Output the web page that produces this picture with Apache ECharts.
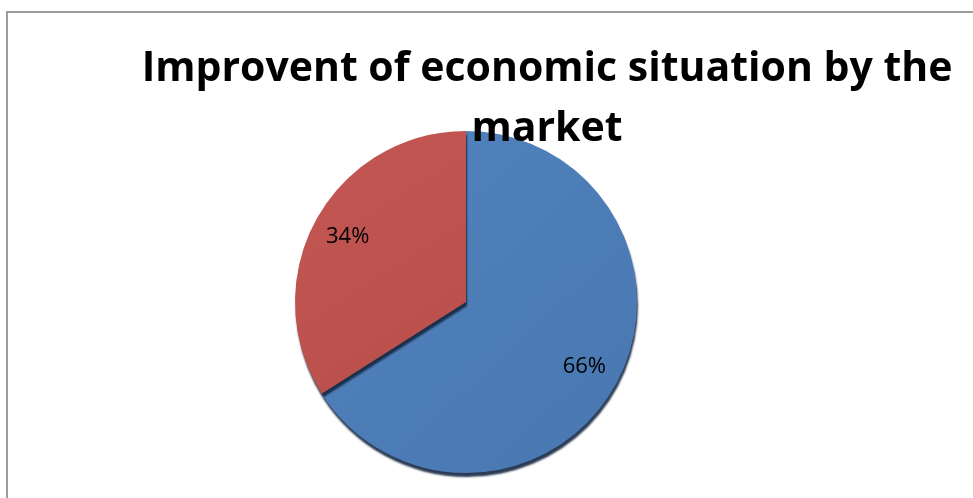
<!DOCTYPE html>
<html>
<head>
<meta charset="utf-8">
<script src="https://cdn.jsdelivr.net/npm/echarts@6/dist/echarts.min.js"></script>
<style>
  html, body { margin: 0; padding: 0; background: #fff; }
  #chart { width: 973px; height: 498px; }
</style>
</head>
<body>
<div id="chart"></div>
<script>
// Share of respondents by answer
const categories = ['Yes', 'No'];
const shares = [66, 34];
const sliceColors = [
  ['#5283BE', '#4877B0'],
  ['#C45753', '#B84E4A']
];
const titleText = 'Improvent of economic situation by the\nmarket';

const chart = echarts.init(document.getElementById('chart'));

const pieData = categories.map((name, i) => ({
  name,
  value: shares[i],
  itemStyle: {
    color: {
      type: 'linear', x: 0, y: 0, x2: 1, y2: 1,
      colorStops: [
        { offset: 0, color: sliceColors[i][0] },
        { offset: 1, color: sliceColors[i][1] }
      ]
    }
  }
}));

const center = [466, 302];

chart.setOption({
  animation: false,
  graphic: [{
    type: 'rect',
    shape: { x: 7, y: 12, width: 1000, height: 520 },
    style: { fill: 'none', stroke: '#9c9c9c', lineWidth: 2 },
    silent: true,
    z: -10
  }],
  title: {
    text: titleText,
    left: 542,
    top: 34,
    textAlign: 'center',
    textStyle: {
      fontFamily: 'Open Sans',
      fontWeight: 'bold',
      fontSize: 41,
      lineHeight: 60,
      color: '#000'
    }
  },
  series: [
    {
      type: 'pie',
      center: center,
      radius: [0, 171],
      startAngle: 90,
      clockwise: true,
      silent: true,
      label: { show: false },
      labelLine: { show: false },
      itemStyle: {
        shadowColor: 'rgba(20,38,65,0.9)',
        shadowBlur: 2,
        shadowOffsetX: 1,
        shadowOffsetY: 4
      },
      data: pieData
    },
    {
      // transparent ring that carries the percentage labels
      type: 'pie',
      center: center,
      radius: [92, 172],
      startAngle: 90,
      clockwise: true,
      silent: true,
      z: 5,
      itemStyle: { color: 'rgba(0,0,0,0)' },
      label: {
        show: true,
        position: 'inside',
        formatter: p => p.value + '%',
        fontFamily: 'Open Sans',
        fontSize: 22,
        color: '#000'
      },
      labelLine: { show: false },
      data: categories.map((name, i) => ({ name, value: shares[i] }))
    }
  ]
});
</script>
</body>
</html>
